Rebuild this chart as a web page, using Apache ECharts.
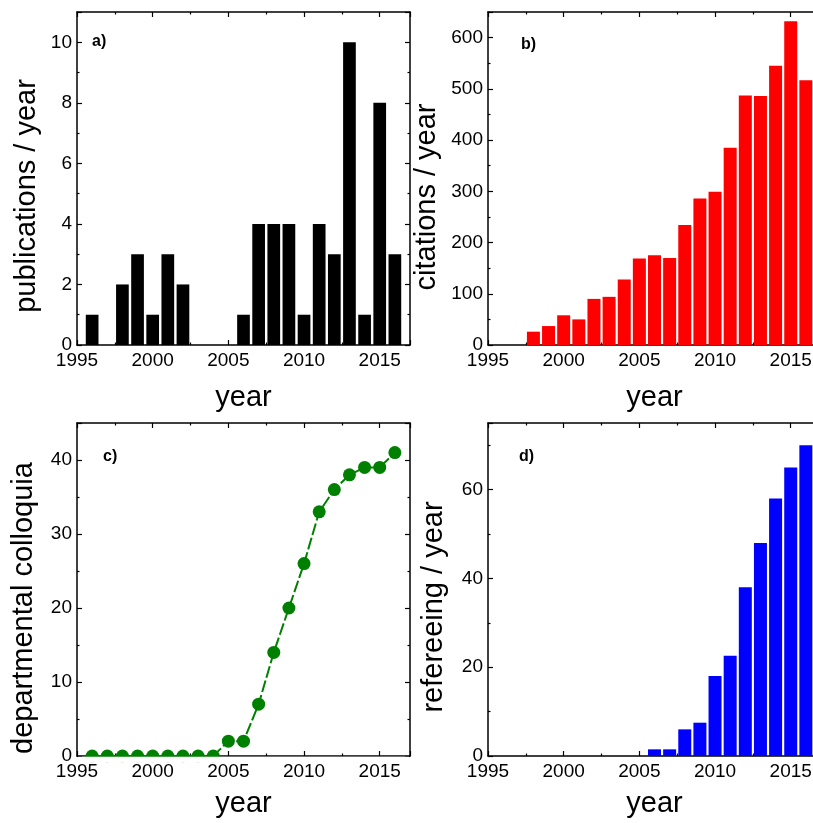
<!DOCTYPE html>
<html>
<head>
<meta charset="utf-8">
<script src="https://cdn.jsdelivr.net/npm/echarts@6/dist/echarts.min.js"></script>
<style>
html,body{margin:0;padding:0;background:#fff;overflow:hidden}
#chart{width:813px;height:823px}
</style>
</head>
<body>
<div id="chart"></div>
<script>
// ---------- data ----------
const pubYears = [1996,1997,1998,1999,2000,2001,2002,2003,2004,2005,2006,2007,2008,2009,2010,2011,2012,2013,2014,2015,2016];
const publications = [1,0,2,3,1,3,2,0,0,0,1,4,4,4,1,4,3,10,1,8,3];

const citationYears = [1998,1999,2000,2001,2002,2003,2004,2005,2006,2007,2008,2009,2010,2011,2012,2013,2014,2015,2016];
const citations = [26,37,58,50,90,94,128,169,175,170,234,286,299,385,487,486,545,632,517];

const colloquiaYears = [1996,1997,1998,1999,2000,2001,2002,2003,2004,2005,2006,2007,2008,2009,2010,2011,2012,2013,2014,2015,2016];
const colloquia = [0,0,0,0,0,0,0,0,0,2,2,7,14,20,26,33,36,38,39,39,41];

const refereeingYears = [2006,2007,2008,2009,2010,2011,2012,2013,2014,2015,2016];
const refereeing = [1.5,1.5,6,7.5,18,22.6,38,48,58,65,70];

const panelLabels = ['a)','b)','c)','d)'];
const yTitles = ['publications / year','citations / year','departmental colloquia','refereeing / year'];
const xTitle = 'year';
const xRange = {min:1995, max:2017, interval:5};
const yRanges = [
  {min:0, max:11, interval:2},
  {min:0, max:650, interval:100},
  {min:0, max:45, interval:10},
  {min:0, max:75, interval:20}
];

// ---------- style / layout ----------
const FONT = '"Liberation Sans", Arial, Helvetica, sans-serif';
const grids = [
  {left:77,  top:12,  width:333, height:333},
  {left:488, top:12,  width:333, height:333},
  {left:77,  top:423, width:333, height:333},
  {left:488, top:423, width:333, height:333}
];
const lineStyle = {color:'#000', width:1.5};
const tickStyle = {color:'#000', width:1.2};

function axisCommon(range, g, pos, showLabel, margin){
  return {
    type:'value', gridIndex:g, position:pos,
    min:range.min, max:range.max, interval:range.interval,
    axisLine:{show:true, onZero:false, lineStyle:lineStyle},
    axisTick:{show:true, inside:true, length:5, lineStyle:tickStyle},
    minorTick:{show:true, splitNumber:2, length:2.5, lineStyle:tickStyle},
    splitLine:{show:false},
    minorSplitLine:{show:false},
    axisLabel:{
      show:showLabel, margin:margin, fontSize:19, color:'#000', fontFamily:FONT,
      hideOverlap:false,
      formatter: v => (Math.abs(v % range.interval) < 1e-9 ? String(v) : '')
    }
  };
}

const xAxes = [], yAxes = [];
grids.forEach((gr, g) => {
  xAxes.push(axisCommon(xRange, g, 'bottom', true, 6.5));
  xAxes.push(axisCommon(xRange, g, 'top', false, 5));
  yAxes.push(axisCommon(yRanges[g], g, 'left', true, 5));
  yAxes.push(axisCommon(yRanges[g], g, 'right', false, 5));
});

const series = [
  {type:'bar', xAxisIndex:0, yAxisIndex:0, barWidth:12.7,
   itemStyle:{color:'#000000'},
   data: pubYears.map((y,i)=>[y, publications[i]])},
  {type:'bar', xAxisIndex:2, yAxisIndex:2, barWidth:13,
   itemStyle:{color:'#ff0000'},
   data: citationYears.map((y,i)=>[y, citations[i]])},
  {type:'line', xAxisIndex:4, yAxisIndex:4,
   symbol:'circle', symbolSize:13, showSymbol:true,
   itemStyle:{color:'#008000'},
   lineStyle:{color:'#008000', width:2, type:[12,3]},
   z:3,
   data: colloquiaYears.map((y,i)=>[y, colloquia[i]])},
  {type:'bar', xAxisIndex:6, yAxisIndex:6, barWidth:13,
   itemStyle:{color:'#0000ff'},
   data: refereeingYears.map((y,i)=>[y, refereeing[i]])}
];

// title/label positions (centres)
const yTitlePos = [[27,196],[427,197],[24,608],[434,607]];
const xTitleY = [398, 398, 804, 804];
const panelLabelPos = [[92,42],[521,45],[103,457],[519,457]];

function buildGraphics(extra){
  const els = [];
  grids.forEach((gr,g)=>{
    els.push({type:'text', id:'yt'+g, x:yTitlePos[g][0], y:yTitlePos[g][1], rotation:Math.PI/2,
      style:{text:yTitles[g], fontSize:29, fontFamily:FONT, fill:'#000', align:'center', verticalAlign:'middle'}});
    els.push({type:'text', id:'xt'+g, x:gr.left + gr.width/2, y:xTitleY[g],
      style:{text:xTitle, fontSize:29, fontFamily:FONT, fill:'#000', align:'center', verticalAlign:'middle'}});
    els.push({type:'text', id:'pl'+g, x:panelLabelPos[g][0], y:panelLabelPos[g][1],
      style:{text:panelLabels[g], fontSize:16, fontWeight:'bold', fontFamily:FONT, fill:'#000', align:'left', verticalAlign:'middle'}});
  });
  return els.concat(extra || []);
}

const chart = echarts.init(document.getElementById('chart'), null, {renderer:'canvas', width:813, height:823});
const option = {
  animation:false,
  backgroundColor:'#fff',
  grid: grids.map(g => Object.assign({containLabel:false, outerBoundsMode:'none'}, g)),
  xAxis: xAxes,
  yAxis: yAxes,
  series: series,
  graphic: {elements: buildGraphics()}
};
chart.setOption(option);

// mask marker halves below the c) panel's bottom axis (symbols clipped to the frame as in the original)
const p0 = chart.convertToPixel({xAxisIndex:4, yAxisIndex:4}, [xRange.min, yRanges[2].min]);
const p1 = chart.convertToPixel({xAxisIndex:4, yAxisIndex:4}, [xRange.max, yRanges[2].min]);
const mask = {type:'rect', id:'mask', z:100,
  shape:{x:p0[0]+1, y:p0[1]+0.8, width:p1[0]-p0[0]-2, height:6},
  style:{fill:'#ffffff'}};
chart.setOption({graphic:{elements: buildGraphics([mask])}}, {replaceMerge:['graphic']});
</script>
</body>
</html>
